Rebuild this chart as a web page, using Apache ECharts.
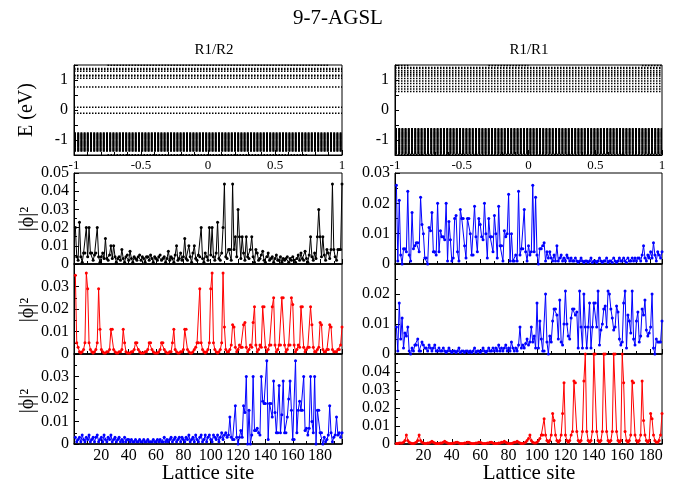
<!DOCTYPE html>
<html>
<head>
<meta charset="utf-8">
<script src="https://cdn.jsdelivr.net/npm/echarts@6/dist/echarts.min.js"></script>
<style>
  html, body { margin: 0; padding: 0; background: #fff; }
  #chart { width: 677px; height: 487px; }
</style>
</head>
<body>
<div id="chart"></div>
<script>
// ---------------- band structure (E in eV, k in units of pi/a) ----------------
const kTicks = [-1, -0.5, 0, 0.5, 1];
// R1/R2: isolated dotted bands
const bandsR12 = [1.38, 1.35, 1.29, 1.16, 1.13, 1.06, 0.77, 0.09, -0.11];
// R1/R2: dense valence manifold
const denseR12 = [-0.76, -0.785, -0.81, -0.83, -0.855, -0.875, -0.90, -0.92, -0.945, -0.965,
                  -0.99, -1.01, -1.035, -1.055, -1.08, -1.10, -1.125, -1.145, -1.17, -1.19,
                  -1.215, -1.235, -1.26, -1.28, -1.305, -1.325, -1.35, -1.37];
// bands touching the window edge only over part of the zone: [E, kFrom, kTo]
const edgeR12 = [[1.49, -0.75, 0.9], [-1.49, -0.75, 0.75]];

// R1/R1
const bandsR11 = [1.42, 1.38, 1.31, 1.25, 1.19, 1.13, 1.05, 0.97, 0.88, 0.78, 0.70, 0.62];
const denseR11 = [-0.62, -0.645, -0.665, -0.69, -0.71, -0.735, -0.755, -0.78, -0.80, -0.825,
                  -0.845, -0.87, -0.89, -0.915, -0.935, -0.96, -0.98, -1.005, -1.025, -1.05,
                  -1.07, -1.095, -1.115, -1.14, -1.16, -1.185, -1.205, -1.23, -1.25, -1.275,
                  -1.295, -1.32, -1.34, -1.365, -1.385, -1.41, -1.43, -1.455];
const edgeR11 = [[1.485, -1, -0.9], [1.485, -0.3, 0.0], [1.485, 0.85, 1], [-1.485, -1, 1]];

// ---------------- |phi|^2 on each lattice site ----------------
// R1/R2 column: 196 sites
const psiL1 = [
  0.020, 0.004, 0.002, 0.023, 0.004, 0.001, 0.006, 0.006, 0.020, 0.004,
  0.020, 0.006, 0.006, 0.002, 0.005, 0.006, 0.020, 0.004, 0.001, 0.004,
  0.006, 0.003, 0.014, 0.003, 0.002, 0.005, 0.010, 0.003, 0.010, 0.004,
  0.001, 0.003, 0.004, 0.002, 0.008, 0.003, 0.001, 0.004, 0.005, 0.002,
  0.007, 0.003, 0.001, 0.004, 0.003, 0.002, 0.004, 0.005, 0.002, 0.004,
  0.003, 0.001, 0.004, 0.004, 0.002, 0.005, 0.003, 0.001, 0.004, 0.003,
  0.002, 0.004, 0.005, 0.002, 0.003, 0.004, 0.001, 0.003, 0.007, 0.002,
  0.004, 0.003, 0.001, 0.005, 0.010, 0.002, 0.003, 0.006, 0.002, 0.004,
  0.014, 0.003, 0.002, 0.010, 0.004, 0.001, 0.006, 0.010, 0.003, 0.002,
  0.005, 0.004, 0.020, 0.003, 0.001, 0.006, 0.004, 0.002, 0.020, 0.005,
  0.020, 0.004, 0.002, 0.006, 0.023, 0.003, 0.002, 0.006, 0.020, 0.044,
  0.004, 0.003, 0.008, 0.008, 0.002, 0.044, 0.008, 0.015, 0.004, 0.030,
  0.015, 0.003, 0.015, 0.006, 0.002, 0.015, 0.004, 0.003, 0.008, 0.015,
  0.004, 0.001, 0.008, 0.006, 0.002, 0.003, 0.005, 0.007, 0.002, 0.001,
  0.004, 0.006, 0.002, 0.003, 0.004, 0.001, 0.003, 0.005, 0.002, 0.002,
  0.004, 0.001, 0.003, 0.002, 0.003, 0.004, 0.001, 0.003, 0.002, 0.004,
  0.002, 0.001, 0.003, 0.005, 0.002, 0.006, 0.003, 0.002, 0.007, 0.003,
  0.001, 0.005, 0.015, 0.004, 0.002, 0.006, 0.003, 0.015, 0.030, 0.015,
  0.004, 0.015, 0.005, 0.002, 0.008, 0.006, 0.003, 0.008, 0.044, 0.008,
  0.004, 0.002, 0.008, 0.008, 0.008, 0.044
];
const psiL2 = [
  0.035, 0.005, 0.003, 0.001, 0.0005, 0.001, 0.002, 0.005, 0.036, 0.029,
  0.005, 0.002, 0.001, 0.0005, 0.001, 0.002, 0.005, 0.029, 0.011, 0.002,
  0.001, 0.0005, 0.0005, 0.001, 0.001, 0.002, 0.011, 0.011, 0.002, 0.001,
  0.0005, 0.0005, 0.001, 0.001, 0.002, 0.011, 0.005, 0.001, 0.0005, 0.0005,
  0.0005, 0.001, 0.001, 0.002, 0.005, 0.005, 0.002, 0.001, 0.0005, 0.0005,
  0.0005, 0.001, 0.001, 0.002, 0.005, 0.005, 0.002, 0.001, 0.0005, 0.0005,
  0.0005, 0.001, 0.002, 0.005, 0.005, 0.002, 0.001, 0.0005, 0.0005, 0.001,
  0.001, 0.005, 0.011, 0.002, 0.001, 0.0005, 0.0005, 0.001, 0.001, 0.002,
  0.011, 0.011, 0.002, 0.001, 0.0005, 0.0005, 0.001, 0.002, 0.003, 0.005,
  0.005, 0.029, 0.005, 0.002, 0.001, 0.0005, 0.001, 0.002, 0.005, 0.029,
  0.036, 0.005, 0.002, 0.001, 0.0005, 0.001, 0.002, 0.005, 0.036, 0.012,
  0.002, 0.001, 0.001, 0.002, 0.004, 0.013, 0.012, 0.003, 0.001, 0.002,
  0.004, 0.003, 0.003, 0.013, 0.014, 0.003, 0.001, 0.002, 0.004, 0.003,
  0.014, 0.021, 0.004, 0.001, 0.002, 0.004, 0.003, 0.021, 0.021, 0.003,
  0.001, 0.002, 0.004, 0.004, 0.021, 0.025, 0.004, 0.001, 0.002, 0.004,
  0.004, 0.025, 0.025, 0.004, 0.001, 0.002, 0.004, 0.004, 0.025, 0.022,
  0.004, 0.001, 0.002, 0.004, 0.003, 0.021, 0.021, 0.003, 0.001, 0.002,
  0.003, 0.003, 0.021, 0.013, 0.003, 0.001, 0.001, 0.002, 0.003, 0.014,
  0.013, 0.002, 0.001, 0.001, 0.002, 0.002, 0.013, 0.012, 0.002, 0.001,
  0.001, 0.001, 0.002, 0.002, 0.004, 0.012
];
const psiL3 = [
  0.003, 0.001, 0.002, 0.003, 0.001, 0.004, 0.002, 0.001, 0.003, 0.002,
  0.004, 0.001, 0.002, 0.003, 0.001, 0.003, 0.004, 0.001, 0.002, 0.003,
  0.001, 0.004, 0.002, 0.001, 0.003, 0.002, 0.004, 0.001, 0.002, 0.003,
  0.001, 0.002, 0.003, 0.001, 0.002, 0.001, 0.003, 0.001, 0.002, 0.002,
  0.001, 0.002, 0.001, 0.001, 0.002, 0.001, 0.001, 0.002, 0.001, 0.001,
  0.002, 0.001, 0.001, 0.002, 0.001, 0.001, 0.001, 0.002, 0.001, 0.001,
  0.002, 0.001, 0.002, 0.001, 0.001, 0.003, 0.001, 0.002, 0.001, 0.002,
  0.003, 0.001, 0.002, 0.003, 0.001, 0.002, 0.003, 0.001, 0.003, 0.002,
  0.001, 0.003, 0.002, 0.004, 0.001, 0.002, 0.003, 0.001, 0.004, 0.002,
  0.001, 0.003, 0.004, 0.001, 0.002, 0.004, 0.001, 0.003, 0.004, 0.002,
  0.001, 0.004, 0.003, 0.002, 0.004, 0.001, 0.003, 0.005, 0.002, 0.004,
  0.005, 0.003, 0.004, 0.012, 0.003, 0.002, 0.002, 0.017, 0.003, 0.000,
  0.003, 0.006, 0.003, 0.017, 0.014, 0.030, 0.000, 0.015, 0.000, 0.004,
  0.030, 0.006, 0.006, 0.007, 0.005, 0.004, 0.030, 0.019, 0.018, 0.018,
  0.037, 0.002, 0.018, 0.018, 0.012, 0.028, 0.014, 0.005, 0.005, 0.026,
  0.005, 0.013, 0.028, 0.005, 0.005, 0.012, 0.020, 0.028, 0.015, 0.002,
  0.002, 0.037, 0.005, 0.015, 0.019, 0.015, 0.015, 0.030, 0.006, 0.007,
  0.004, 0.007, 0.030, 0.010, 0.005, 0.030, 0.000, 0.015, 0.015, 0.005,
  0.005, 0.000, 0.003, 0.001, 0.002, 0.004, 0.017, 0.005, 0.001, 0.003,
  0.004, 0.012, 0.004, 0.005, 0.003, 0.005
];
// R1/R1 column: 188 sites
const psiR1 = [
  0.026, 0.001, 0.021, 0.003, 0.000, 0.005, 0.005, 0.004, 0.024, 0.003,
  0.001, 0.017, 0.005, 0.006, 0.007, 0.007, 0.004, 0.022, 0.013, 0.010,
  0.002, 0.002, 0.000, 0.012, 0.011, 0.017, 0.004, 0.004, 0.003, 0.020,
  0.004, 0.011, 0.009, 0.009, 0.008, 0.020, 0.001, 0.014, 0.008, 0.001,
  0.002, 0.015, 0.016, 0.004, 0.001, 0.018, 0.015, 0.015, 0.006, 0.002,
  0.015, 0.015, 0.010, 0.003, 0.003, 0.019, 0.009, 0.004, 0.015, 0.013,
  0.009, 0.008, 0.020, 0.010, 0.002, 0.015, 0.009, 0.009, 0.004, 0.016,
  0.010, 0.002, 0.019, 0.006, 0.006, 0.001, 0.011, 0.009, 0.010, 0.023,
  0.001, 0.010, 0.001, 0.001, 0.003, 0.001, 0.024, 0.003, 0.005, 0.005,
  0.018, 0.004, 0.001, 0.006, 0.003, 0.004, 0.026, 0.004, 0.022, 0.003,
  0.000, 0.005, 0.005, 0.006, 0.007, 0.001, 0.004, 0.002, 0.004, 0.002,
  0.001, 0.003, 0.001, 0.006, 0.001, 0.002, 0.003, 0.001, 0.002, 0.001,
  0.003, 0.002, 0.001, 0.002, 0.001, 0.001, 0.002, 0.001, 0.0005, 0.001,
  0.002, 0.001, 0.0005, 0.001, 0.001, 0.0005, 0.001, 0.002, 0.0005, 0.001,
  0.001, 0.0005, 0.001, 0.002, 0.001, 0.0005, 0.001, 0.001, 0.002, 0.0005,
  0.001, 0.001, 0.0005, 0.002, 0.001, 0.0005, 0.001, 0.002, 0.001, 0.001,
  0.002, 0.001, 0.0005, 0.002, 0.001, 0.001, 0.002, 0.001, 0.002, 0.001,
  0.002, 0.002, 0.001, 0.003, 0.006, 0.002, 0.001, 0.003, 0.002, 0.004,
  0.002, 0.007, 0.003, 0.001, 0.004, 0.003, 0.002, 0.004
];
const psiR2 = [
  0.009, 0.001, 0.017, 0.005, 0.012, 0.002, 0.007, 0.006, 0.009, 0.001,
  0.000, 0.002, 0.001, 0.003, 0.003, 0.005, 0.001, 0.001, 0.004, 0.003,
  0.002, 0.002, 0.001, 0.003, 0.002, 0.001, 0.002, 0.003, 0.001, 0.001,
  0.002, 0.001, 0.001, 0.002, 0.001, 0.0005, 0.001, 0.002, 0.001, 0.0005,
  0.001, 0.001, 0.0005, 0.001, 0.002, 0.0005, 0.001, 0.001, 0.0005, 0.001,
  0.001, 0.0005, 0.001, 0.0005, 0.001, 0.002, 0.0005, 0.001, 0.001, 0.0005,
  0.001, 0.002, 0.001, 0.0005, 0.001, 0.002, 0.001, 0.001, 0.002, 0.001,
  0.002, 0.001, 0.003, 0.001, 0.002, 0.001, 0.002, 0.003, 0.001, 0.002,
  0.001, 0.004, 0.002, 0.001, 0.002, 0.001, 0.003, 0.009, 0.002, 0.003,
  0.002, 0.0035, 0.005, 0.003, 0.004, 0.009, 0.004, 0.006, 0.002, 0.017,
  0.002, 0.011, 0.005, 0.001, 0.001, 0.020, 0.004, 0.000, 0.006, 0.004,
  0.011, 0.015, 0.015, 0.013, 0.005, 0.018, 0.004, 0.003, 0.010, 0.021,
  0.010, 0.006, 0.005, 0.012, 0.015, 0.015, 0.013, 0.014, 0.002, 0.021,
  0.009, 0.002, 0.020, 0.009, 0.002, 0.009, 0.017, 0.002, 0.009, 0.017,
  0.017, 0.009, 0.021, 0.003, 0.008, 0.010, 0.015, 0.016, 0.009, 0.021,
  0.020, 0.015, 0.012, 0.008, 0.009, 0.016, 0.014, 0.005, 0.003, 0.004,
  0.017, 0.021, 0.002, 0.013, 0.011, 0.007, 0.021, 0.005, 0.003, 0.011,
  0.014, 0.004, 0.006, 0.015, 0.013, 0.018, 0.008, 0.006, 0.007, 0.009,
  0.020, 0.002, 0.000, 0.005, 0.004, 0.004, 0.004, 0.011
];
const psiR3 = [
  0.0003, 0.0003, 0.0005, 0.0005, 0.0005, 0.001, 0.002, 0.005, 0.002, 0.001,
  0.0005, 0.0003, 0.0003, 0.0005, 0.001, 0.002, 0.005, 0.002, 0.001, 0.0005,
  0.0003, 0.0003, 0.0005, 0.0005, 0.001, 0.0015, 0.001, 0.0005, 0.0003, 0.0003,
  0.0003, 0.0005, 0.0005, 0.001, 0.0015, 0.001, 0.0005, 0.0003, 0.0003, 0.0003,
  0.0005, 0.0005, 0.001, 0.001, 0.0005, 0.0003, 0.0003, 0.0003, 0.0005, 0.0005,
  0.001, 0.001, 0.0005, 0.0003, 0.0003, 0.0003, 0.0005, 0.0005, 0.001, 0.001,
  0.0005, 0.0003, 0.0003, 0.0003, 0.0005, 0.0005, 0.001, 0.001, 0.0005, 0.0003,
  0.0003, 0.0003, 0.0005, 0.0005, 0.001, 0.001, 0.0015, 0.001, 0.0005, 0.0003,
  0.0003, 0.0003, 0.0005, 0.001, 0.001, 0.0015, 0.001, 0.0005, 0.0003, 0.0003,
  0.0005, 0.001, 0.002, 0.003, 0.005, 0.002, 0.001, 0.0005, 0.0005, 0.001,
  0.002, 0.003, 0.005, 0.005, 0.014, 0.005, 0.002, 0.001, 0.002, 0.005,
  0.017, 0.013, 0.005, 0.002, 0.001, 0.002, 0.005, 0.017, 0.034, 0.005,
  0.002, 0.001, 0.002, 0.005, 0.007, 0.035, 0.034, 0.007, 0.002, 0.001,
  0.002, 0.007, 0.035, 0.050, 0.007, 0.002, 0.001, 0.002, 0.007, 0.050,
  0.050, 0.007, 0.002, 0.001, 0.002, 0.007, 0.050, 0.050, 0.007, 0.002,
  0.001, 0.002, 0.007, 0.050, 0.050, 0.007, 0.002, 0.001, 0.002, 0.050,
  0.034, 0.007, 0.002, 0.001, 0.002, 0.005, 0.035, 0.034, 0.005, 0.002,
  0.001, 0.002, 0.005, 0.035, 0.013, 0.005, 0.002, 0.001, 0.002, 0.017,
  0.014, 0.005, 0.002, 0.001, 0.001, 0.002, 0.005, 0.017
];

// ---------------- layout ----------------
const FONT = '"Liberation Serif", "Times New Roman", serif';
const colX = [{ left: 74, width: 268, nSites: 196 }, { left: 395, width: 267, nSites: 188 }];
const rowY = [{ top: 65, height: 90 }, { top: 173, height: 91 }, { top: 264, height: 90 }, { top: 354, height: 90 }];
const psiMax = [[0.05, 0.04, 0.04], [0.03, 0.03, 0.05]];
const psiSets = [[psiL1, psiL2, psiL3], [psiR1, psiR2, psiR3]];
const psiColors = [['#000000', '#ff0000', '#0000ff'], ['#0000ff', '#0000ff', '#ff0000']];
const bandSets = [
  { lines: bandsR12, dense: denseR12, edge: edgeR12 },
  { lines: bandsR11, dense: denseR11, edge: edgeR11 }
];

const grids = [], xAxes = [], yAxes = [], series = [];
const tickStyle = { color: '#000', width: 1 };
const kMin = kTicks[0], kMax = kTicks[kTicks.length - 1];

for (let c = 0; c < 2; c++) {
  for (let r = 0; r < 4; r++) {
    grids.push({
      left: colX[c].left, width: colX[c].width, top: rowY[r].top, height: rowY[r].height,
      show: true, borderColor: '#000', borderWidth: 1, backgroundColor: 'transparent'
    });
    const gi = grids.length - 1;
    if (r === 0) {
      xAxes.push({
        gridIndex: gi, type: 'value', min: kMin, max: kMax, interval: 0.5,
        axisLine: { onZero: false, lineStyle: { color: '#000', width: 1 } },
        axisTick: { inside: true, length: 5, lineStyle: tickStyle },
        minorTick: { show: true, splitNumber: 5, length: 3, lineStyle: tickStyle },
        splitLine: { show: false },
        axisLabel: { fontFamily: FONT, fontSize: 13, color: '#000', margin: 4 }
      });
      yAxes.push({
        gridIndex: gi, type: 'value', min: -1.5, max: 1.5, interval: 0.5,
        axisLine: { onZero: false, lineStyle: { color: '#000', width: 1 } },
        axisTick: { inside: true, length: 4, lineStyle: tickStyle },
        splitLine: { show: false },
        axisLabel: {
          fontFamily: FONT, fontSize: 16, color: '#000', margin: 6,
          formatter: v => (Number.isInteger(v) && Math.abs(v) <= 1 ? String(v) : '')
        }
      });
      const b = bandSets[c];
      const dotted = { color: '#000', width: 1.5, type: [1.5, 1.5] };
      b.lines.forEach(E => series.push({
        type: 'line', xAxisIndex: gi, yAxisIndex: gi, showSymbol: false, silent: true,
        data: [[kMin, E], [kMax, E]], lineStyle: dotted
      }));
      b.edge.forEach(([E, k0, k1]) => series.push({
        type: 'line', xAxisIndex: gi, yAxisIndex: gi, showSymbol: false, silent: true,
        data: [[k0, E], [k1, E]], lineStyle: dotted
      }));
      b.dense.forEach(E => series.push({
        type: 'line', xAxisIndex: gi, yAxisIndex: gi, showSymbol: false, silent: true,
        data: [[kMin, E], [kMax, E]],
        lineStyle: { color: '#000', width: 1.3, type: [2, 1.2] }
      }));
    } else {
      const p = r - 1;
      const bottom = r === 3;
      xAxes.push({
        gridIndex: gi, type: 'value', min: 0, max: colX[c].nSites, interval: 20,
        axisLine: { onZero: false, lineStyle: { color: '#000', width: 1.6 } },
        axisTick: { inside: true, length: 5, lineStyle: tickStyle },
        minorTick: { show: true, splitNumber: 2, length: 3, lineStyle: tickStyle },
        splitLine: { show: false },
        axisLabel: {
          show: bottom, showMinLabel: false, showMaxLabel: false,
          fontFamily: FONT, fontSize: 16, color: '#000', margin: 4
        }
      });
      yAxes.push({
        gridIndex: gi, type: 'value', min: 0, max: psiMax[c][p], interval: 0.01,
        axisLine: { onZero: false, lineStyle: { color: '#000', width: 1 } },
        axisTick: { inside: true, length: 5, lineStyle: tickStyle },
        minorTick: { show: true, splitNumber: 2, length: 3, lineStyle: tickStyle },
        splitLine: { show: false },
        axisLabel: {
          showMaxLabel: p === 0, fontFamily: FONT, fontSize: 16, color: '#000', margin: 5
        }
      });
      const col = psiColors[c][p];
      series.push({
        type: 'line', xAxisIndex: gi, yAxisIndex: gi, silent: true,
        data: psiSets[c][p].map((v, i) => [i + 1, v]),
        symbol: 'circle', symbolSize: 3, showSymbol: true,
        itemStyle: { color: col },
        lineStyle: { color: col, width: 1 }
      });
    }
  }
}

const txt = (text, x, y, size, rot) => ({
  type: 'text', x, y, rotation: rot || 0, silent: true,
  style: { text, fill: '#000', font: `${size}px ${FONT}`, align: 'center', verticalAlign: 'middle' }
});

const chart = echarts.init(document.getElementById('chart'), null, { renderer: 'canvas' });
chart.setOption({
  animation: false,
  grid: grids, xAxis: xAxes, yAxis: yAxes, series,
  graphic: [
    txt('9-7-AGSL', 338, 18, 21),
    txt('R1/R2', 214, 50, 15),
    txt('R1/R1', 529, 50, 15),
    txt('E (eV)', 27, 110, 20, Math.PI / 2),
    txt('|\u03D5|\u00B2', 28, 219, 20, Math.PI / 2),
    txt('|\u03D5|\u00B2', 28, 310, 20, Math.PI / 2),
    txt('|\u03D5|\u00B2', 28, 401, 20, Math.PI / 2),
    txt('Lattice site', 208, 473, 21),
    txt('Lattice site', 529, 473, 21)
  ]
});
</script>
</body>
</html>
